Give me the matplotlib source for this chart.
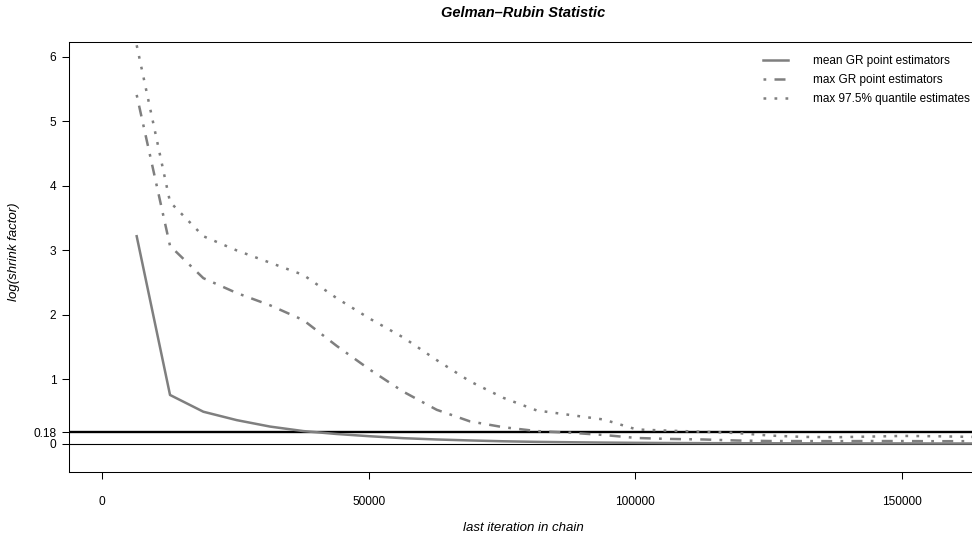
import matplotlib

matplotlib.use("Agg")
import matplotlib.pyplot as plt

# last iteration in chain (one value per bin)
iterations = [6500, 12750, 19000, 25250, 31500, 37750, 44000, 50250, 56500,
              62750, 69000, 75250, 81500, 87750, 94000, 100250, 106500, 112750,
              119000, 125250, 131500, 137750, 144000, 150250, 156500, 162750, 169000]

mean_gr = [3.22, 0.76, 0.50, 0.37, 0.27, 0.20, 0.155, 0.12, 0.09, 0.07, 0.055,
           0.042, 0.033, 0.027, 0.022, 0.018, 0.015, 0.013, 0.012, 0.011, 0.010,
           0.010, 0.009, 0.009, 0.008, 0.008, 0.008]

max_gr = [5.41, 3.07, 2.57, 2.34, 2.15, 1.92, 1.52, 1.15, 0.81, 0.53, 0.35,
          0.26, 0.20, 0.175, 0.14, 0.093, 0.078, 0.07, 0.054, 0.046, 0.045,
          0.044, 0.046, 0.045, 0.043, 0.044, 0.044]

max_q975 = [6.18, 3.75, 3.22, 3.0, 2.81, 2.62, 2.26, 1.94, 1.65, 1.30, 0.97,
            0.715, 0.52, 0.45, 0.38, 0.225, 0.206, 0.19, 0.17, 0.13, 0.11,
            0.105, 0.115, 0.125, 0.12, 0.11, 0.11]

legend_labels = ["mean GR point estimators", "max GR point estimators",
                 "max 97.5% quantile estimates"]
x_ticks = [0, 50000, 100000, 150000]
y_ticks = [0, 0.18, 1, 2, 3, 4, 5, 6]
y_ticklabels = ["0", "0.18", "1", "2", "3", "4", "5", "6"]
threshold = 0.18

plt.rcParams["font.family"] = ["Liberation Sans", "DejaVu Sans"]

W, H = 972, 538
fig = plt.figure(figsize=(W / 100, H / 100), dpi=100)
# plot region (pixels): left 69, top 42, bottom 472, right just past the image edge
left, right, top, bottom = 69, 977, 42, 472
ax = fig.add_axes([left / W, 1 - bottom / H, (right - left) / W, (bottom - top) / H])

grey = "#7f7f7f"
lw = 1.8
u = 1.1  # R lty unit, in multiples of lw
ax.axhline(threshold, color="black", lw=1.7, zorder=1)
ax.axhline(0, color="black", lw=0.8, zorder=1)

solid, = ax.plot(iterations, mean_gr, color=grey, lw=lw, zorder=2)
dotdash, = ax.plot(iterations, max_gr, color=grey, lw=lw, zorder=2,
                   linestyle=(0, (u, 3 * u, 4 * u, 3 * u)))
dotted, = ax.plot(iterations, max_q975, color=grey, lw=lw, zorder=2,
                  linestyle=(0, (u, 3 * u)))

ax.set_xlim(-6190, 164040)
ax.set_ylim(-0.434, 6.23)
ax.set_xticks(x_ticks)
ax.set_xticklabels([str(t) for t in x_ticks])
ax.set_yticks(y_ticks)
ax.set_yticklabels(y_ticklabels)
ax.tick_params(axis="both", direction="out", length=5, width=0.75,
               labelsize=8.6, pad=4, colors="black")
ax.tick_params(axis="x", pad=12)
ax.spines["right"].set_visible(False)
for s in ax.spines.values():
    s.set_linewidth(0.75)
    s.set_color("black")

fig.text(523 / W, 1 - 13 / H, "Gelman\u2013Rubin Statistic", ha="center",
         va="center", fontsize=10.5, fontweight="bold", fontstyle="italic")
fig.text(523 / W, 1 - 528 / H, "last iteration in chain", ha="center",
         va="center", fontsize=9.5, fontstyle="italic")
fig.text(14 / W, 1 - 252 / H, "log(shrink factor)", ha="center", va="center",
         rotation=90, fontsize=9.5, fontstyle="italic")

leg = fig.legend([solid, dotdash, dotted], legend_labels, loc="upper left",
                 bbox_to_anchor=(763 / W, 1 - 55 / H), frameon=False,
                 fontsize=8.5, handlelength=2.12, handletextpad=2.12,
                 labelspacing=0.58, borderpad=0, borderaxespad=0)

fig.savefig("out.png", dpi=100)
